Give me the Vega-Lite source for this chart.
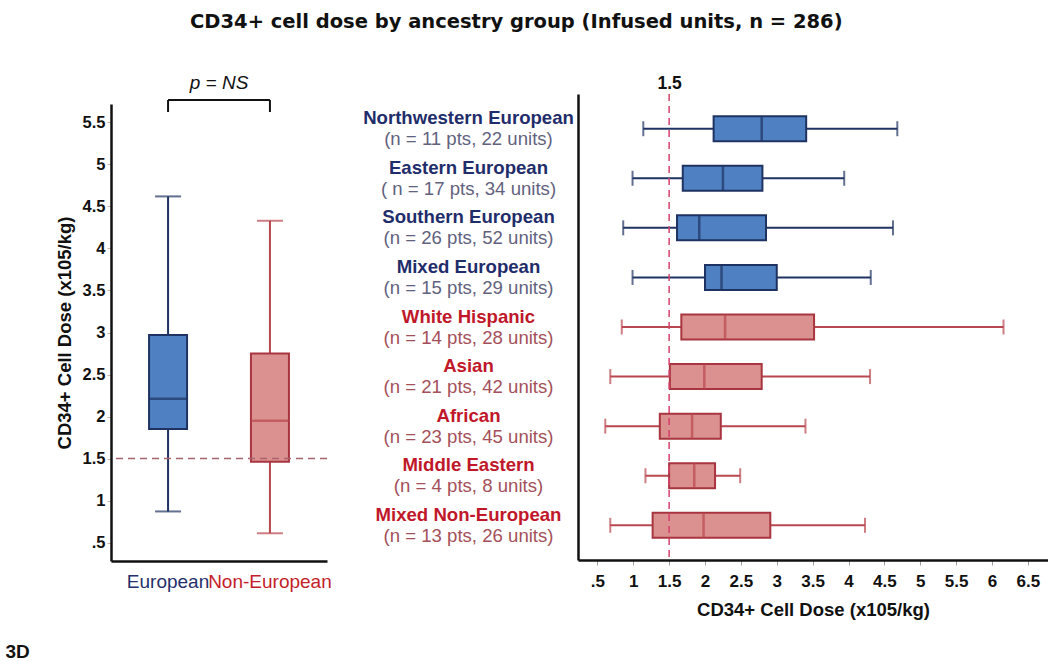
{
  "$schema": "https://vega.github.io/schema/vega-lite/v6.json",
  "background": "white",
  "padding": {"left": 5, "top": 11, "right": 0, "bottom": 0},
  "title": {"text": "CD34+ cell dose by ancestry group (Infused units, n = 286)", "font": "DejaVu Sans", "fontSize": 19.5, "fontWeight": "bold", "color": "#111111", "anchor": "start", "dx": 185, "offset": 42},
  "spacing": 30,
  "config": {
    "view": {"stroke": null},
    "font": "Liberation Sans",
    "axis": {"labelFont": "Liberation Sans", "titleFont": "Liberation Sans", "grid": false}
  },
  "hconcat": [
    {
      "width": 216,
      "height": 467,
      "title": {"text": "p = NS", "font": "Liberation Sans", "fontSize": 19, "fontStyle": "italic", "fontWeight": "normal", "color": "#111111", "anchor": "middle", "offset": 1},
      "data": {"values": [
        {"group": "European", "low": 0.87, "q1": 1.85, "median": 2.21, "q3": 2.97, "high": 4.62},
        {"group": "Non-European", "low": 0.61, "q1": 1.46, "median": 1.95, "q3": 2.75, "high": 4.33}
      ]},
      "layer": [
        {
          "mark": {"type": "rule", "strokeWidth": 2},
          "encoding": {
            "x": {"field": "group", "type": "nominal", "scale": {"domain": ["European", "Non-European"], "paddingInner": 0, "paddingOuter": 0.06},
              "axis": {"title": "3D", "titleAnchor": "start", "titleAlign": "left", "titleX": -106, "titleY": 90, "titleBaseline": "middle", "titleFontSize": 19, "titleFontWeight": "bold", "titleColor": "#111111",
                "labelAngle": 0, "labelFontSize": 19, "labelPadding": 11, "labelColor": {"expr": "datum.value == 'European' ? '#25306b' : '#c41e2a'"},
                "ticks": false, "tickSize": 0, "domainColor": "#111111", "domainWidth": 2.5}},
            "y": {"field": "low", "type": "quantitative", "scale": {"domain": [0.28, 5.72], "range": [467, 10], "nice": false, "zero": false},
              "axis": {"title": "CD34+ Cell Dose (x105/kg)", "titleFontSize": 18.5, "titleFontWeight": "bold", "titleColor": "#111111", "titlePadding": 8,
                "values": [0.5, 1, 1.5, 2, 2.5, 3, 3.5, 4, 4.5, 5, 5.5], "labelExpr": "datum.value == 0.5 ? '.5' : format(datum.value, '~g')",
                "labelFontSize": 16.5, "labelFontWeight": "bold", "labelColor": "#111111", "labelPadding": 2, "tickSize": 4, "tickColor": "#c9b6a8", "domainColor": "#111111", "domainWidth": 2.5}},
            "y2": {"field": "high"},
            "color": {"field": "group", "type": "nominal", "scale": {"domain": ["European", "Non-European"], "range": ["#1f3362", "#b9474f"]}, "legend": null}
          }
        },
        {
          "mark": {"type": "tick", "size": 26, "thickness": 2},
          "encoding": {
            "x": {"field": "group", "type": "nominal"},
            "y": {"field": "low", "type": "quantitative"},
            "color": {"field": "group", "type": "nominal", "legend": null}
          }
        },
        {
          "mark": {"type": "tick", "size": 26, "thickness": 2},
          "encoding": {
            "x": {"field": "group", "type": "nominal"},
            "y": {"field": "high", "type": "quantitative"},
            "color": {"field": "group", "type": "nominal", "legend": null}
          }
        },
        {
          "mark": {"type": "bar", "size": 38, "strokeWidth": 2},
          "encoding": {
            "x": {"field": "group", "type": "nominal"},
            "y": {"field": "q1", "type": "quantitative"},
            "y2": {"field": "q3"},
            "fill": {"field": "group", "type": "nominal", "scale": {"domain": ["European", "Non-European"], "range": ["#4f81c2", "#db918f"]}, "legend": null},
            "stroke": {"field": "group", "type": "nominal", "scale": {"domain": ["European", "Non-European"], "range": ["#1f3362", "#a8353f"]}, "legend": null}
          }
        },
        {
          "mark": {"type": "tick", "size": 38, "thickness": 2.5},
          "encoding": {
            "x": {"field": "group", "type": "nominal"},
            "y": {"field": "median", "type": "quantitative"},
            "color": {"field": "group", "type": "nominal", "legend": null}
          }
        },
        {
          "data": {"values": [{"threshold": 1.5}]},
          "mark": {"type": "rule", "strokeDash": [7, 5], "strokeWidth": 1.5, "color": "#a8636e"},
          "encoding": {"y": {"field": "threshold", "type": "quantitative"}}
        },
        {
          "mark": {"type": "rule", "strokeWidth": 2, "color": "#111111"},
          "encoding": {
            "x": {"field": "group", "type": "nominal"},
            "y": {"datum": 5.625},
            "y2": {"datum": 5.768}
          }
        },
        {
          "data": {"values": [{"a": "European", "b": "Non-European", "level": 5.768}]},
          "mark": {"type": "rule", "strokeWidth": 2, "color": "#111111"},
          "encoding": {
            "x": {"field": "a", "type": "nominal"},
            "x2": {"field": "b"},
            "y": {"field": "level", "type": "quantitative"}
          }
        }
      ]
    },
    {
      "width": 470,
      "height": 466,
      "data": {"values": [
        {"label": "Northwestern European|(n = 11 pts, 22 units)", "ancestry": "European", "low": 1.14, "q1": 2.12, "median": 2.79, "q3": 3.41, "high": 4.68},
        {"label": "Eastern European|( n = 17 pts, 34 units)", "ancestry": "European", "low": 0.99, "q1": 1.69, "median": 2.25, "q3": 2.8, "high": 3.94},
        {"label": "Southern European|(n = 26 pts, 52 units)", "ancestry": "European", "low": 0.86, "q1": 1.61, "median": 1.92, "q3": 2.85, "high": 4.62},
        {"label": "Mixed European|(n = 15 pts, 29 units)", "ancestry": "European", "low": 0.99, "q1": 2.0, "median": 2.23, "q3": 3.0, "high": 4.31},
        {"label": "White Hispanic|(n = 14 pts, 28 units)", "ancestry": "Non-European", "low": 0.84, "q1": 1.67, "median": 2.28, "q3": 3.52, "high": 6.16},
        {"label": "Asian|(n = 21 pts, 42 units)", "ancestry": "Non-European", "low": 0.68, "q1": 1.51, "median": 1.99, "q3": 2.79, "high": 4.3},
        {"label": "African|(n = 23 pts, 45 units)", "ancestry": "Non-European", "low": 0.61, "q1": 1.37, "median": 1.82, "q3": 2.22, "high": 3.4},
        {"label": "Middle Eastern|(n = 4 pts, 8 units)", "ancestry": "Non-European", "low": 1.17, "q1": 1.5, "median": 1.85, "q3": 2.14, "high": 2.49},
        {"label": "Mixed Non-European|(n = 13 pts, 26 units)", "ancestry": "Non-European", "low": 0.68, "q1": 1.27, "median": 1.98, "q3": 2.91, "high": 4.23}
      ]},
      "layer": [
        {
          "mark": {"type": "rule", "strokeWidth": 2},
          "encoding": {
            "y": {"field": "label", "type": "nominal", "sort": null, "scale": {"paddingInner": 0, "paddingOuter": 0.2},
              "axis": {"orient": "left", "title": null, "domain": true, "domainColor": "#111111", "domainWidth": 2.5, "ticks": false, "tickSize": 0,
                "labelExpr": "split(datum.value, '|')[0]", "labelAlign": "center", "labelBaseline": "middle", "labelPadding": 110, "labelOffset": -10.5,
                "labelFontSize": 18.6, "labelFontWeight": "bold", "labelLimit": 0, "labelOverlap": false, "labelBound": false,
                "labelColor": {"expr": "indexof(datum.value, 'European|') >= 0 && indexof(datum.value, 'Non-') < 0 ? '#1f2d6b' : '#c0182a'"}}},
            "x": {"field": "low", "type": "quantitative", "scale": {"domain": [0.23, 6.78], "nice": false, "zero": false},
              "axis": {"orient": "bottom", "title": "CD34+ Cell Dose (x105/kg)", "titleFontSize": 18.5, "titleFontWeight": "bold", "titleColor": "#111111", "titlePadding": 11,
                "values": [0.5, 1, 1.5, 2, 2.5, 3, 3.5, 4, 4.5, 5, 5.5, 6, 6.5], "labelExpr": "datum.value == 0.5 ? '.5' : format(datum.value, '~g')",
                "labelFontSize": 17, "labelFontWeight": "bold", "labelColor": "#111111", "labelPadding": 8, "tickSize": 5, "tickColor": "#a0a0a0", "domainColor": "#111111", "domainWidth": 2.5}},
            "x2": {"field": "high"},
            "color": {"field": "ancestry", "type": "nominal", "scale": {"domain": ["European", "Non-European"], "range": ["#1f3362", "#a8353f"]}, "legend": null}
          }
        },
        {
          "mark": {"type": "tick", "size": 15, "thickness": 2},
          "encoding": {
            "y": {"field": "label", "type": "nominal", "sort": null, "axis": null},
            "x": {"field": "low", "type": "quantitative", "axis": null},
            "color": {"field": "ancestry", "type": "nominal", "legend": null}
          }
        },
        {
          "mark": {"type": "tick", "size": 15, "thickness": 2},
          "encoding": {
            "y": {"field": "label", "type": "nominal", "sort": null, "axis": null},
            "x": {"field": "high", "type": "quantitative", "axis": null},
            "color": {"field": "ancestry", "type": "nominal", "legend": null}
          }
        },
        {
          "mark": {"type": "bar", "size": 25, "strokeWidth": 2},
          "encoding": {
            "y": {"field": "label", "type": "nominal", "sort": null,
              "axis": {"orient": "left", "title": null, "domain": false, "ticks": false, "tickSize": 0,
                "labelExpr": "split(datum.value, '|')[1]", "labelAlign": "center", "labelBaseline": "middle", "labelPadding": 110, "labelOffset": 10.5,
                "labelFontSize": 18.6, "labelFontWeight": "normal", "labelLimit": 0, "labelOverlap": false, "labelBound": false,
                "labelColor": {"expr": "indexof(datum.value, 'European|') >= 0 && indexof(datum.value, 'Non-') < 0 ? '#62627e' : '#a4505a'"}}},
            "x": {"field": "q1", "type": "quantitative", "axis": null},
            "x2": {"field": "q3"},
            "fill": {"field": "ancestry", "type": "nominal", "legend": null},
            "stroke": {"field": "ancestry", "type": "nominal", "legend": null}
          }
        },
        {
          "mark": {"type": "tick", "size": 25, "thickness": 2.5},
          "encoding": {
            "y": {"field": "label", "type": "nominal", "sort": null, "axis": null},
            "x": {"field": "median", "type": "quantitative", "axis": null},
            "color": {"field": "ancestry", "type": "nominal", "legend": null}
          }
        },
        {
          "data": {"values": [{"threshold": 1.5}]},
          "mark": {"type": "rule", "strokeDash": [7, 5], "strokeWidth": 1.5, "color": "#d6406c"},
          "encoding": {
            "x": {"field": "threshold", "type": "quantitative",
              "axis": {"orient": "top", "title": null, "values": [1.5], "labelExpr": "'1.5'", "domain": false, "ticks": false, "tickSize": 0, "labelPadding": 2,
                "labelFontSize": 17.5, "labelFontWeight": "bold", "labelColor": "#111111"}}
          }
        }
      ],
      "resolve": {"axis": {"x": "independent", "y": "independent"}}
    }
  ]
}
